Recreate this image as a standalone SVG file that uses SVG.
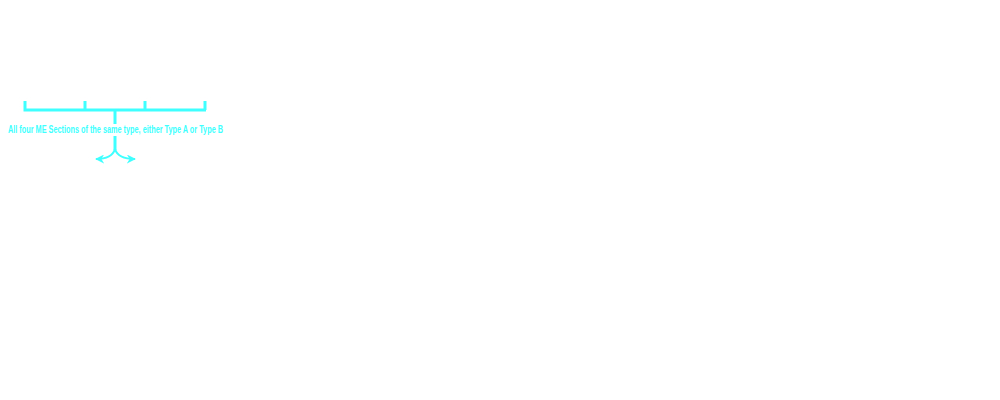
<svg xmlns="http://www.w3.org/2000/svg" width="1000" height="400" viewBox="0 0 1000 400">
<style>
.ln{stroke:#40FFFF;stroke-width:3;fill:none}
.cv{stroke:#40FFFF;stroke-width:2;fill:none}
.lbl{font-family:"Liberation Sans",Arial,sans-serif;font-size:10px;font-weight:bold;fill:#40FFFF}
</style>
<defs>
<marker id="ah" viewBox="0 0 10 10" refX="9" refY="5" markerWidth="4.5" markerHeight="4.5" orient="auto" markerUnits="strokeWidth">
<path d="M0,0 L10,5 L0,10 L3,5 Z" fill="#40FFFF"/>
</marker>
</defs>
<rect width="1000" height="400" fill="#FFFFFF"/>
<g id="bracket">
<path class="ln" d="M25,101 V110 H206 M85,101 V110 M145,101 V110 M205,101 V110 M115,110 V124"/>
</g>
<g id="label">
<text class="lbl" x="8" y="133" textLength="215" lengthAdjust="spacingAndGlyphs">All four ME Sections of the same type, either Type A or Type B</text>
</g>
<g id="connectors">
<path class="ln" d="M115,136 V150"/>
<path class="cv" d="M115,149 Q112,159 96,159" marker-end="url(#ah)"/>
<path class="cv" d="M115,149 Q118,159 135,159" marker-end="url(#ah)"/>
</g>
</svg>
